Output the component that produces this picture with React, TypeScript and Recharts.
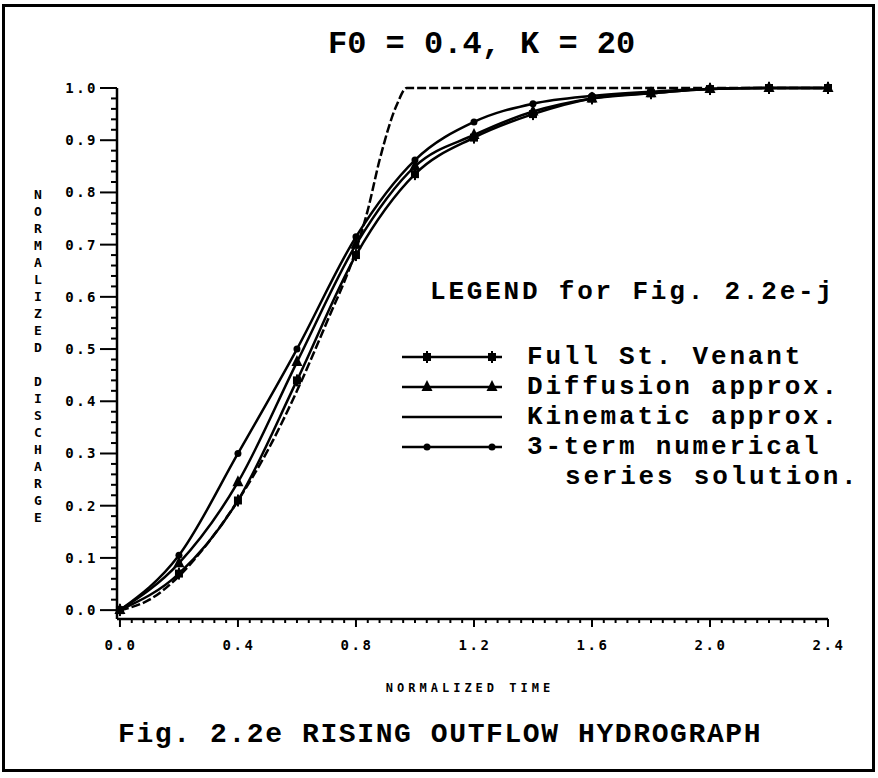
import React from "react";
import { LineChart, Line, XAxis, YAxis, Legend } from "recharts";

// normalized time (x) and normalized discharge (y)
const TIME = [0, 0.2, 0.4, 0.6, 0.8, 1.0, 1.2, 1.4, 1.6, 1.8, 2.0, 2.2, 2.4];
const FULL_ST_VENANT = [0, 0.07, 0.21, 0.44, 0.68, 0.835, 0.905, 0.95, 0.98, 0.99, 0.998, 1.0, 1.0];
const DIFFUSION = [0, 0.09, 0.245, 0.475, 0.7, 0.85, 0.91, 0.955, 0.98, 0.99, 0.998, 1.0, 1.0];
const THREE_TERM = [0, 0.105, 0.3, 0.5, 0.715, 0.862, 0.935, 0.97, 0.985, 0.993, 0.998, 1.0, 1.0];

const KIN_TIME = [0, 0.1, 0.2, 0.3, 0.4, 0.5, 0.6, 0.7, 0.8, 0.84, 0.88, 0.94, 0.972, 1.2, 1.6, 2.0, 2.4];
const KINEMATIC = [0, 0.02, 0.065, 0.13, 0.21, 0.305, 0.42, 0.55, 0.69, 0.766, 0.862, 0.97, 1.0, 1.0, 1.0, 1.0, 1.0];

const X_TICKS = [0, 0.4, 0.8, 1.2, 1.6, 2.0, 2.4];
const Y_TICKS = [0, 0.1, 0.2, 0.3, 0.4, 0.5, 0.6, 0.7, 0.8, 0.9, 1.0];

const NAMES: Record<string, string> = {
  sv: "Full St. Venant",
  diff: "Diffusion approx.",
  kin: "Kinematic approx.",
  term: "3-term numerical series solution.",
};
const LEGEND_ORDER = ["sv", "diff", "kin", "term"];

const MONO = '"Liberation Mono", "Courier New", monospace';
const SMALL = '"DejaVu Sans Mono", monospace';

// minor tick positions (every 0.04 on x, 0.02 on y)
const X_MINOR: number[] = [];
for (let i = 0; i <= 60; i++) X_MINOR.push(Math.round(i * 4) / 100);
const Y_MINOR: number[] = [];
for (let i = 0; i <= 50; i++) Y_MINOR.push(Math.round(i * 2) / 100);

const isMajor = (v: number, ticks: number[]) => ticks.some((t) => Math.abs(t - v) < 1e-6);

const build = (xs: number[], ys: number[], key: string) => xs.map((t, i) => ({ t, [key]: ys[i] }));

const svData = build(TIME, FULL_ST_VENANT, "sv");
const diffData = build(TIME, DIFFUSION, "diff");
const termData = build(TIME, THREE_TERM, "term");
const kinData = build(KIN_TIME, KINEMATIC, "kin");

const Marker = ({ kind, cx, cy }: { kind: string; cx: number; cy: number }) => {
  if (cx == null || cy == null) return null;
  if (kind === "sv")
    return (
      <g>
        <rect x={cx - 4} y={cy - 4} width={8} height={8} fill="#000" />
        <line x1={cx} y1={cy - 6} x2={cx} y2={cy + 6} stroke="#000" strokeWidth={2} />
      </g>
    );
  if (kind === "diff")
    return <polygon points={`${cx},${cy - 7} ${cx + 5.5},${cy + 4} ${cx - 5.5},${cy + 4}`} fill="#000" />;
  if (kind === "term") return <circle cx={cx} cy={cy} r={3.5} fill="#000" />;
  return null;
};

const dotFor = (kind: string) => (p: any) => <Marker key={`${kind}-${p.index}`} kind={kind} cx={p.cx} cy={p.cy} />;

const XTick = ({ x, y, payload }: any) => {
  const major = isMajor(payload.value, X_TICKS);
  return (
    <g>
      <line x1={x} y1={y} x2={x} y2={y + (major ? 8 : 4)} stroke="#000" strokeWidth={2} />
      {major && (
        <text x={x + 1} y={y + 31} textAnchor="middle" fontFamily={SMALL} fontWeight="bold" fontSize={14} letterSpacing={2.5} fill="#000">
          {payload.value.toFixed(1)}
        </text>
      )}
    </g>
  );
};

const YTick = ({ x, y, payload }: any) => {
  const major = isMajor(payload.value, Y_TICKS);
  return (
    <g>
      <line x1={x} y1={y} x2={x - (major ? 17 : 6)} y2={y} stroke="#000" strokeWidth={2} />
      {major && (
        <text x={x - 19} y={y + 5} textAnchor="end" fontFamily={SMALL} fontWeight="bold" fontSize={14} letterSpacing={2.5} fill="#000">
          {payload.value.toFixed(1)}
        </text>
      )}
    </g>
  );
};

const LegendSample = ({ kind }: { kind: string }) => (
  <svg width={104} height={30} style={{ display: "block", flex: "none" }}>
    <line x1={2} y1={15} x2={102} y2={15} stroke="#000" strokeWidth={2.5} />
    {kind !== "kin" && <Marker kind={kind} cx={27} cy={15} />}
    {kind !== "kin" && <Marker kind={kind} cx={92} cy={15} />}
  </svg>
);

const renderLegend = ({ payload }: any) => {
  const items = [...(payload || [])].sort(
    (a: any, b: any) => LEGEND_ORDER.indexOf(a.dataKey) - LEGEND_ORDER.indexOf(b.dataKey)
  );
  return (
    <div style={{ fontFamily: MONO, fontWeight: "bold", fontSize: 26, letterSpacing: 2.8, lineHeight: "30px", color: "#000", whiteSpace: "pre" }}>
      <div style={{ marginLeft: 30, marginBottom: 35 }}>LEGEND for Fig. 2.2e-j</div>
      {items.map((entry: any) => {
        const text: string = entry.value;
        const cut = text.indexOf(" series");
        return (
          <div key={entry.dataKey}>
            <div style={{ display: "flex", alignItems: "center", height: 30 }}>
              <LegendSample kind={entry.dataKey} />
              <span style={{ marginLeft: 23 }}>{cut > 0 ? text.slice(0, cut) : text}</span>
            </div>
            {cut > 0 && <div style={{ marginLeft: 165, height: 30 }}>{text.slice(cut + 1)}</div>}
          </div>
        );
      })}
    </div>
  );
};

const Y_LABEL = "NORMALIZED DISCHARGE";

export default function App() {
  return (
    <div style={{ position: "absolute", left: 0, top: 0, width: 878, height: 778, background: "#fff" }}>
      <LineChart width={878} height={778} margin={{ top: 88, right: 50, bottom: 119, left: 57 }}>
        <XAxis
          type="number"
          dataKey="t"
          domain={[-0.01, 2.4]}
          ticks={X_MINOR}
          interval={0}
          tick={<XTick />}
          tickLine={false}
          tickSize={0}
          tickMargin={0}
          height={40}
          axisLine={{ stroke: "#000", strokeWidth: 2.5 }}
          allowDuplicatedCategory={false}
        />
        <YAxis
          type="number"
          domain={[-0.017, 1]}
          ticks={Y_MINOR}
          interval={0}
          tick={<YTick />}
          tickLine={false}
          tickSize={0}
          tickMargin={0}
          width={60}
          axisLine={{ stroke: "#000", strokeWidth: 2.5 }}
        />
        <Line data={svData} dataKey="sv" name={NAMES.sv} type="monotone" stroke="#000" strokeWidth={2.5} dot={dotFor("sv")} isAnimationActive={false} />
        <Line data={diffData} dataKey="diff" name={NAMES.diff} type="monotone" stroke="#000" strokeWidth={2.5} dot={dotFor("diff")} isAnimationActive={false} />
        <Line data={kinData} dataKey="kin" name={NAMES.kin} type="monotone" stroke="#000" strokeWidth={2.5} strokeDasharray="9 3" dot={false} isAnimationActive={false} />
        <Line data={termData} dataKey="term" name={NAMES.term} type="monotone" stroke="#000" strokeWidth={2.5} dot={dotFor("term")} isAnimationActive={false} />
        <Legend
          layout="vertical"
          align="center"
          verticalAlign="middle"
          content={renderLegend}
          wrapperStyle={{ left: 400, top: 277, width: 470 }}
        />
      </LineChart>
      <svg width={878} height={778} style={{ position: "absolute", left: 0, top: 0, pointerEvents: "none" }}>
        <rect x={3.5} y={5.5} width={870} height={765} fill="none" stroke="#000" strokeWidth={3} />
        <text x={328} y={53} fontFamily={MONO} fontWeight="bold" fontSize={32} fill="#000" style={{ whiteSpace: "pre" }}>
          F0 = 0.4, K = 20
        </text>
        <text x={470} y={692} textAnchor="middle" fontFamily={SMALL} fontWeight="bold" fontSize={12} letterSpacing={4} fill="#000">
          NORMALIZED TIME
        </text>
        {Y_LABEL.split("").map((c, i) => (
          <text key={i} x={38} y={199 + i * 17} textAnchor="middle" fontFamily={SMALL} fontWeight="bold" fontSize={13} fill="#000">
            {c}
          </text>
        ))}
        <text x={118} y={742} fontFamily={MONO} fontWeight="bold" fontSize={28} letterSpacing={1.6} fill="#000" style={{ whiteSpace: "pre" }}>
          Fig. 2.2e RISING OUTFLOW HYDROGRAPH
        </text>
      </svg>
    </div>
  );
}
